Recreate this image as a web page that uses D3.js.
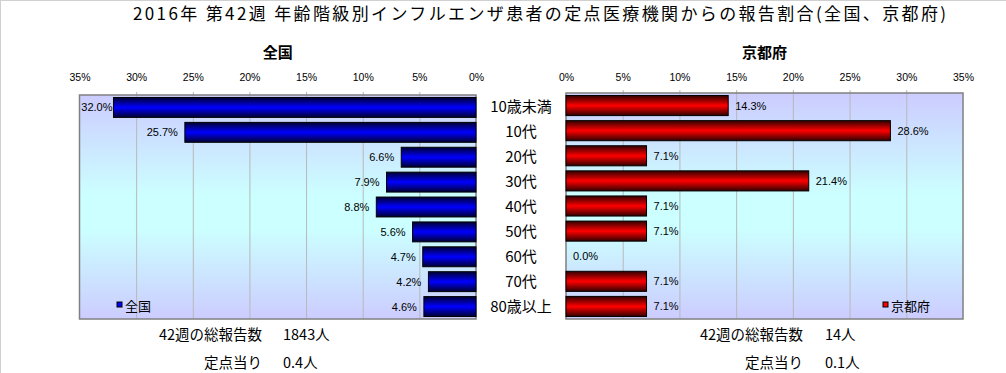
<!DOCTYPE html>
<html><head><meta charset="utf-8">
<script src="https://cdn.jsdelivr.net/npm/d3@7"></script>
<style>
html,body{margin:0;padding:0;background:#fff;}
svg{display:block;font-family:"Noto Sans CJK JP","Liberation Sans",sans-serif;}
</style></head>
<body>
<svg id="c" width="1006" height="373"></svg>
<script>
const categories = ["10歳未満","10代","20代","30代","40代","50代","60代","70代","80歳以上"];
const nationalValues = [32.0,25.7,6.6,7.9,8.8,5.6,4.7,4.2,4.6];
const kyotoValues = [14.3,28.6,7.1,21.4,7.1,7.1,0.0,7.1,7.1];
const tickValues = [0,5,10,15,20,25,30,35];
const titleText = "2016年 第42週 年齢階級別インフルエンザ患者の定点医療機関からの報告割合(全国、京都府)";
const nationalName = "全国";
const kyotoName = "京都府";
const footerLabels = ["42週の総報告数","定点当り"];
const nationalFooter = ["1843人","0.4人"];
const kyotoFooter = ["14人","0.1人"];

const svg = d3.select("#c");
svg.append("rect").attr("x",0.5).attr("y",0.5).attr("width",1010).attr("height",380)
  .attr("fill","none").attr("stroke","#d0d0d0");

const defs = svg.append("defs");
function vgrad(id, stops){
  const g = defs.append("linearGradient").attr("id",id).attr("x1",0).attr("y1",0).attr("x2",0).attr("y2",1);
  stops.forEach(s=>g.append("stop").attr("offset",s[0]).attr("stop-color",s[1]));
}
vgrad("bg",[[0,"#ccccff"],[0.45,"#ccffff"],[0.6,"#ccffff"],[1,"#ccccff"]]);
vgrad("blue",[[0,"#000030"],[0.5,"#0000ff"],[1,"#000030"]]);
vgrad("red",[[0,"#300000"],[0.5,"#ff0000"],[1,"#300000"]]);

svg.append("text").attr("x",133).attr("y",20).attr("font-size",17)
  .attr("textLength",813).attr("lengthAdjust","spacing").attr("fill","#000").text(titleText);

const maxV = 35;
const panels = [
  {name:nationalName, vals:nationalValues, x0:476, x1:79.5, top:95, grad:"url(#blue)", sq:"#0000ff", dir:-1,
   legendX:117, footLX:262, footVX:283},
  {name:kyotoName, vals:kyotoValues, x0:566, x1:963, top:93, grad:"url(#red)", sq:"#ff0000", dir:1,
   legendX:883, footLX:803, footVX:825}
];
const bottom = 319;

panels.forEach(p=>{
  const x = d3.scaleLinear().domain([0,maxV]).range([p.x0,p.x1]);
  const y = d3.scaleBand().domain(categories).range([p.top,bottom]).paddingInner(0.2).paddingOuter(0.1);
  const left = Math.min(p.x0,p.x1), right = Math.max(p.x0,p.x1);
  const g = svg.append("g");
  g.append("rect").attr("x",left).attr("y",p.top).attr("width",right-left).attr("height",bottom-p.top)
    .attr("fill","url(#bg)");
  g.selectAll("line.grid").data(tickValues.filter(t=>t>0&&t<maxV)).join("line")
    .attr("x1",d=>x(d)+0.5).attr("x2",d=>x(d)+0.5).attr("y1",p.top-3).attr("y2",bottom)
    .attr("stroke","#b8b8b8").attr("stroke-width",1);
  const axis = d3.axisTop(x).tickValues(tickValues).tickFormat(d=>d+"%").tickSize(0);
  const ax = svg.append("g").attr("transform",`translate(0,${84})`).call(axis);
  ax.select(".domain").remove();
  ax.selectAll("text").attr("font-size",10.5).attr("fill","#000").attr("dy",0)
    .attr("font-family",'"Liberation Sans","Noto Sans CJK JP",sans-serif');
  g.append("rect").attr("x",left).attr("y",p.top).attr("width",right-left).attr("height",bottom-p.top)
    .attr("fill","none").attr("stroke","#808080").attr("stroke-width",1.5);
  g.selectAll("rect.bar").data(p.vals).join("rect").attr("class","bar")
    .attr("x",d=>Math.min(x(0),x(d))).attr("y",(d,i)=>y(categories[i]))
    .attr("width",d=>Math.abs(x(d)-x(0))).attr("height",y.bandwidth())
    .attr("fill",p.grad).attr("stroke",d=>d>0?"#000":"none").attr("stroke-width",1);
  g.selectAll("text.val").data(p.vals).join("text").attr("class","val")
    .attr("x",d=>{
      if(p.dir<0){ return Math.max(x(d)-7, left + 33); }
      return x(d)+7;
    })
    .attr("y",(d,i)=>y(categories[i])+y.bandwidth()/2+4)
    .attr("text-anchor",p.dir<0?"end":"start")
    .attr("font-size",11).attr("font-family",'"Liberation Sans","Noto Sans CJK JP",sans-serif')
    .attr("fill","#000").text(d=>d.toFixed(1)+"%");
  svg.append("text").attr("x",(left+right)/2).attr("y",58).attr("text-anchor","middle")
    .attr("font-size",15).attr("font-weight","bold").text(p.name);
  svg.append("rect").attr("x",p.legendX).attr("y",302).attr("width",5).attr("height",5)
    .attr("fill",p.sq).attr("stroke","#000").attr("stroke-width",1);
  svg.append("text").attr("x",p.legendX+8).attr("y",311).attr("font-size",13).text(p.name);
  const fv = p.dir<0? nationalFooter : kyotoFooter;
  footerLabels.forEach((lab,i)=>{
    svg.append("text").attr("x",p.footLX).attr("y",340+i*28).attr("text-anchor","end")
      .attr("font-size",14.5).text(lab);
    svg.append("text").attr("x",p.footVX).attr("y",340+i*28)
      .attr("font-size",14.5).text(fv[i]);
  });
  if(p.dir<0){
    const yc = y;
    svg.selectAll("text.cat").data(categories).join("text").attr("class","cat")
      .attr("x",521).attr("y",d=>yc(d)+yc.bandwidth()/2+5).attr("text-anchor","middle")
      .attr("font-size",15).text(d=>d);
  }
});
</script>
</body></html>
